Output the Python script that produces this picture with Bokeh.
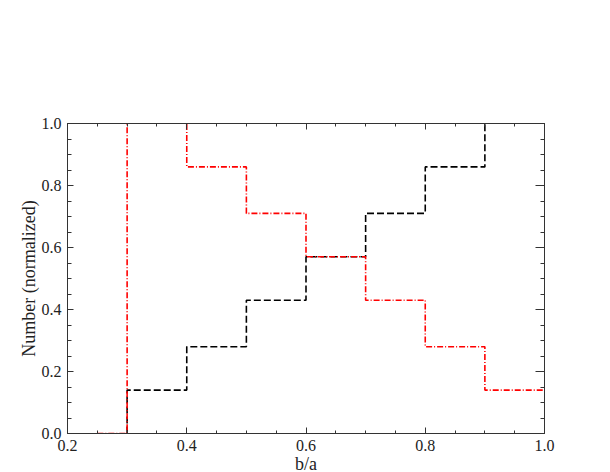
from bokeh.plotting import figure
from bokeh.models import LinearAxis, SingleIntervalTicker, Range1d, NumeralTickFormatter
from bokeh.embed import file_html
from bokeh.resources import INLINE

# Data: histogram bin edges and normalized counts (last bins run above the plotted range)
black_edges = [0.3, 0.3, 0.4, 0.5, 0.6, 0.7, 0.8, 0.9, 1.0]
black_vals = [0.0, 0.14, 0.28, 0.43, 0.57, 0.71, 0.86, 1.1, 1.1]

red_edges = [0.25, 0.3, 0.4, 0.5, 0.6, 0.7, 0.8, 0.9, 1.0]
red_vals = [0.0, 1.1, 0.86, 0.71, 0.57, 0.43, 0.28, 0.14, 0.14]

x_label = "b/a"
y_label = "Number (normalized)"

FONT = "Liberation Serif"

p = figure(width=610, height=472, output_backend="svg", toolbar_location=None,
           x_range=Range1d(0.2, 1.0), y_range=Range1d(0.0, 1.0),
           x_axis_type=None, y_axis_type=None,
           min_border_left=67, min_border_top=123, min_border_right=66, min_border_bottom=20)
p.frame_width = 477
p.frame_height = 310
p.grid.visible = False
p.outline_line_color = None
p.background_fill_color = "white"
p.border_fill_color = "white"

def make_axis(show_labels, major_len, minor_len, label=None):
    ax = LinearAxis(ticker=SingleIntervalTicker(interval=0.2, num_minor_ticks=4),
                    formatter=NumeralTickFormatter(format="0.0"))
    ax.major_tick_in = major_len
    ax.major_tick_out = 0
    ax.minor_tick_in = minor_len
    ax.minor_tick_out = 0
    ax.axis_line_color = "#333333"
    ax.major_tick_line_color = "#333333"
    ax.minor_tick_line_color = "#333333"
    ax.major_label_text_font = FONT
    ax.major_label_text_font_size = "16px"
    ax.major_label_text_color = "#222222" if show_labels else None
    ax.major_label_standoff = 6
    if label:
        ax.axis_label = label
        ax.axis_label_text_font = FONT
        ax.axis_label_text_font_size = "18px"
        ax.axis_label_text_font_style = "normal"
        ax.axis_label_text_color = "#222222"
        ax.axis_label_standoff = 0
    return ax

p.add_layout(make_axis(True, 6, 3, x_label), "below")
p.add_layout(make_axis(True, 6, 4, y_label), "left")
p.add_layout(make_axis(False, 6, 3), "above")
p.add_layout(make_axis(False, 9, 4), "right")

p.step(x=black_edges, y=black_vals, mode="after", line_color="black",
       line_width=1.6, line_dash="7 3")
p.step(x=red_edges, y=red_vals, mode="after", line_color="#ff0000",
       line_width=1.6, line_dash="6 2 1 2")

open("out.html", "w").write(file_html(p, INLINE))
